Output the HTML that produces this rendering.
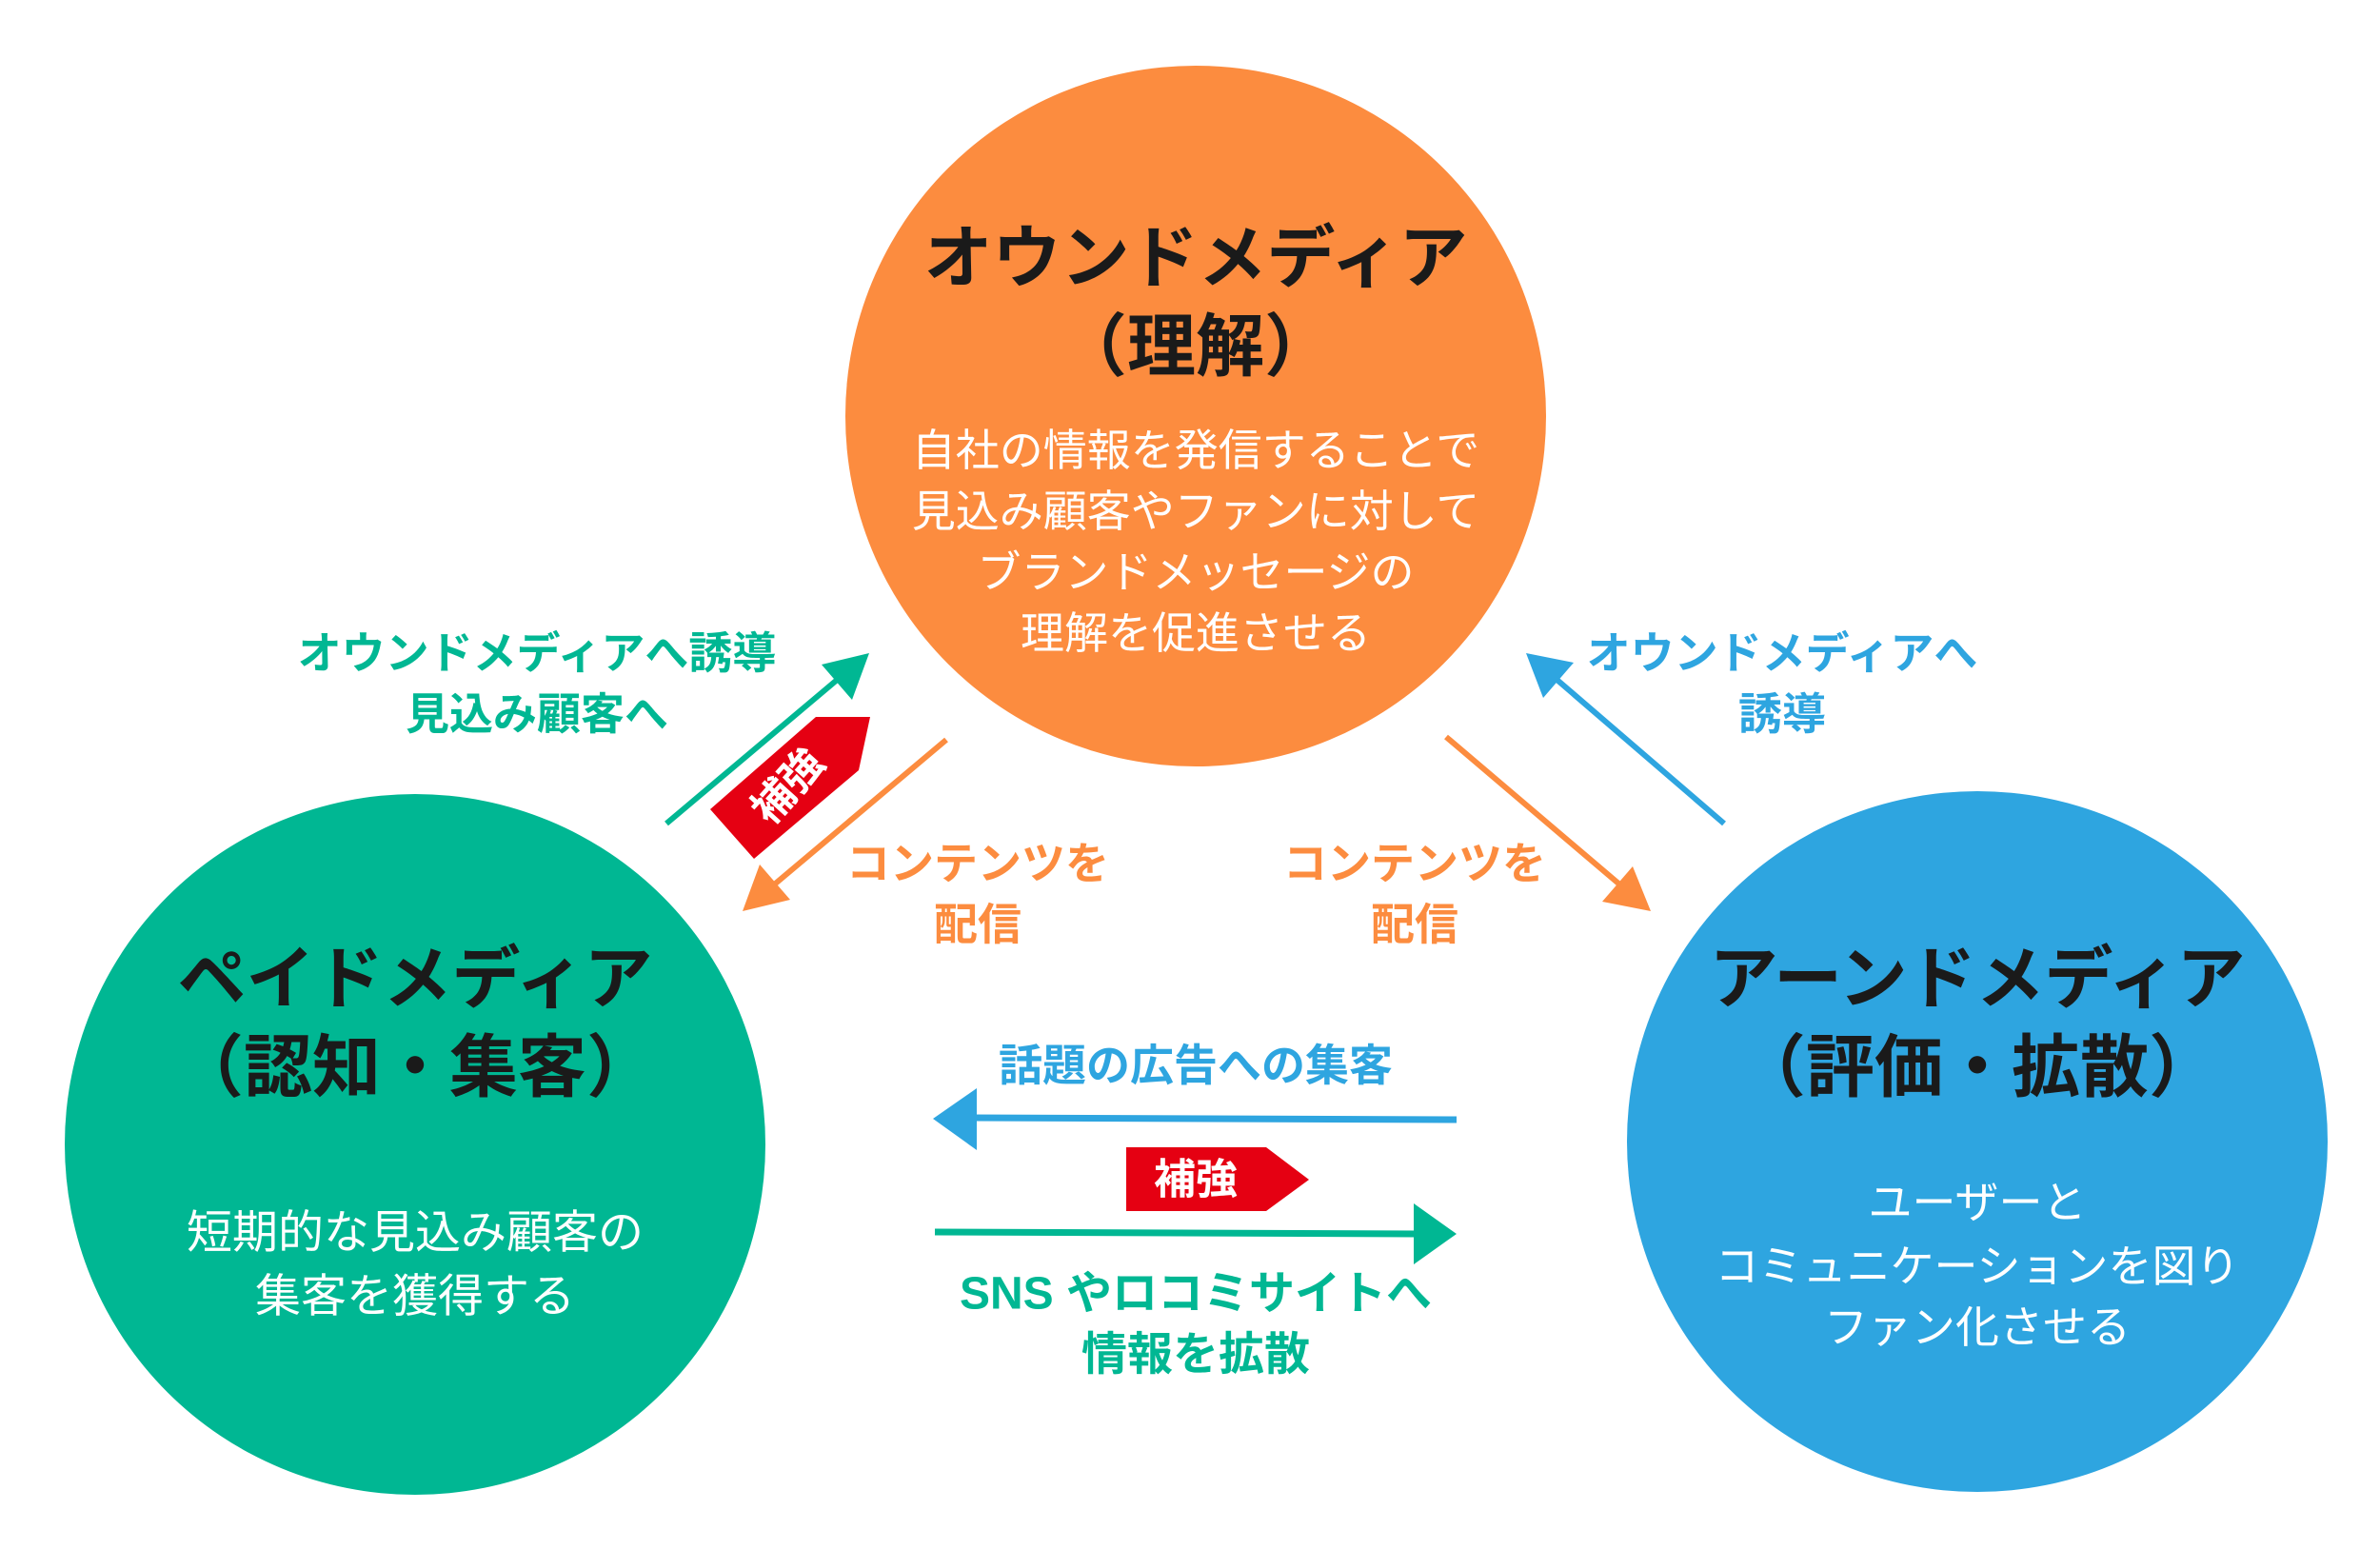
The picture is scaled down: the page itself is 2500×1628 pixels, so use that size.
<!DOCTYPE html>
<html><head><meta charset="utf-8"><style>
html,body{margin:0;padding:0;background:#fff;width:2500px;height:1628px;overflow:hidden}
svg{display:block}
text{font-family:"Liberation Sans","Noto Sans CJK JP",sans-serif;font-weight:bold;text-anchor:middle;dominant-baseline:central}
text.n{font-weight:normal}
</style></head><body>
<svg width="2500" height="1628" viewBox="0 0 2500 1628" xmlns="http://www.w3.org/2000/svg">
<circle cx="1256" cy="437" r="368" fill="#FC8C3F"/>
<circle cx="436" cy="1202" r="368" fill="#00B793"/>
<circle cx="2077" cy="1199" r="368" fill="#2EA5E0"/>

<!-- orange -->
<text x="1256" y="272" font-size="72" fill="#1a1a1a">オウンドメディア</text>
<text x="1256" y="365" font-size="72" fill="#1a1a1a">（理解）</text>
<g font-size="46" fill="#fff">
<text class="n" x="1256" y="473">自社の情報を発信することで</text>
<text class="n" x="1256" y="537">見込み顧客やファンに対して</text>
<text class="n" x="1256" y="601">ブランドメッセージの</text>
<text class="n" x="1256" y="665">理解を促進させる</text>
</g>
<!-- green -->
<text x="436" y="1029" font-size="72" fill="#1a1a1a">ペイドメディア</text>
<text x="436" y="1122" font-size="72" fill="#1a1a1a">（認知・集客）</text>
<g font-size="48" fill="#fff">
<text class="n" x="436" y="1295">短期的な見込み顧客の</text>
<text class="n" x="436" y="1362">集客を獲得する</text>
</g>
<!-- blue -->
<text x="2077" y="1029" font-size="72" fill="#1a1a1a">アーンドメディア</text>
<text x="2077" y="1122" font-size="72" fill="#1a1a1a">（評価・拡散）</text>
<g font-size="46" fill="#fff">
<text class="n" x="2077" y="1263">ユーザーと</text>
<text class="n" x="2077" y="1330">コミュニケーションを図り</text>
<text class="n" x="2077" y="1394">ファン化させる</text>
</g>

<!-- diagonal arrows -->
<line x1="700" y1="865" x2="890" y2="705" stroke="#00B793" stroke-width="6"/>
<polygon points="913,686 863,698 895,735" fill="#00B793"/>
<line x1="994" y1="777" x2="805" y2="936" stroke="#FC8C3F" stroke-width="6"/>
<polygon points="780,957 830,945 798,908" fill="#FC8C3F"/>
<line x1="1519" y1="774" x2="1712" y2="938" stroke="#FC8C3F" stroke-width="6"/>
<polygon points="1734,957 1715,910 1683,947" fill="#FC8C3F"/>
<line x1="1811" y1="865" x2="1625" y2="705" stroke="#2EA5E0" stroke-width="6"/>
<polygon points="1603,686 1621,733 1653,696" fill="#2EA5E0"/>

<!-- rotated tag -->
<polygon points="746,850 792,902 902,809 914,753 857,753" fill="#E50012"/>
<text x="828" y="826" font-size="44" fill="#fff" transform="rotate(-48 828 826)">補強</text>

<!-- diagonal labels -->
<g font-size="46" fill="#00B793">
<text x="564" y="686">オウンドメディアへ誘導</text>
<text x="564" y="750">見込み顧客へ</text>
</g>
<g font-size="46" fill="#2EA5E0">
<text x="1872" y="686">オウンドメディアへ</text>
<text x="1872" y="750">誘導</text>
</g>
<g font-size="46" fill="#FC8C3F">
<text x="1027" y="907">コンテンツを</text>
<text x="1027" y="971">配信</text>
<text x="1486" y="907">コンテンツを</text>
<text x="1486" y="971">配信</text>
</g>

<!-- horizontal -->
<text x="1256" y="1119" font-size="46" fill="#2EA5E0">話題の広告への集客</text>
<line x1="1530" y1="1176" x2="1020" y2="1174" stroke="#2EA5E0" stroke-width="7"/>
<polygon points="980,1175 1026,1143 1026,1208" fill="#2EA5E0"/>
<polygon points="1183,1205 1330,1205 1375,1239 1330,1272 1183,1272" fill="#E50012"/>
<text x="1256" y="1239" font-size="44" fill="#fff">補強</text>
<line x1="982" y1="1294" x2="1490" y2="1296" stroke="#00B793" stroke-width="7"/>
<polygon points="1530,1296 1485,1264 1485,1328" fill="#00B793"/>
<g font-size="48" fill="#00B793">
<text x="1256" y="1359">SNS やロコミサイトへ</text>
<text x="1256" y="1423">情報を拡散</text>
</g>
</svg>
</body></html>
